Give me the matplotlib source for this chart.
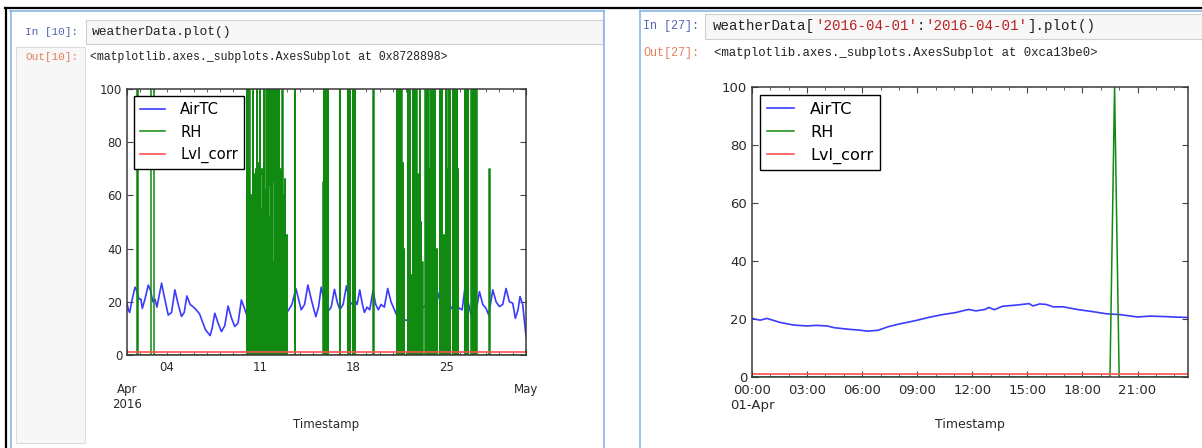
import matplotlib
matplotlib.use('Agg')
import matplotlib.pyplot as plt
from matplotlib.patches import Rectangle

W, H = 1202, 448

# ---- month plot (weatherData.plot()) : x in days since 2016-04-01
airtc_days = [0.0, 0.1, 0.2, 0.35, 0.6, 0.75, 0.9, 1.05, 1.15, 1.35, 1.6, 1.75, 1.95, 2.1,
              2.25, 2.6, 2.8, 3.1, 3.35, 3.6, 3.85, 4.1, 4.3, 4.5, 4.75, 5.0, 5.2, 5.45, 5.6,
              5.9, 6.25, 6.4, 6.6, 6.85, 7.1, 7.35, 7.6, 7.85, 8.1, 8.35, 8.6, 8.8, 9.0, 9.25,
              9.5, 9.75, 10.0, 10.3, 10.6, 10.85, 11.1, 11.5, 11.8, 12.1, 12.4, 12.7, 12.9,
              13.1, 13.35, 13.6, 13.9, 14.2, 14.4, 14.6, 14.85, 15.1, 15.35, 15.6, 15.8, 16.0,
              16.25, 16.5, 16.75, 17.0, 17.1, 17.3, 17.5, 17.7, 17.85, 18.05, 18.25, 18.5,
              18.7, 18.9, 19.1, 19.35, 19.6, 19.85, 20.1, 20.3, 20.5, 20.75, 21.0, 21.25,
              21.4, 21.65, 21.85, 22.05, 22.3, 22.5, 22.75, 23.0, 23.25, 23.5, 23.75, 24.05,
              24.3, 24.5, 24.75, 25.0, 25.2, 25.4, 25.65, 25.95, 26.2, 26.5, 26.75, 27.0,
              27.2, 27.5, 27.75, 28.0, 28.25, 28.5, 28.75, 29.0, 29.2, 29.4, 29.55, 29.75, 30.0]
airtc_vals = [19.5, 17, 16, 20, 25.5, 24, 21, 21, 17.5, 21, 26.3, 24.5, 20, 21,
              18, 27, 22, 15, 16, 24.5, 19, 14.5, 16, 22.2, 19, 18, 17, 15.5, 13.5,
              9.5, 7.3, 10, 15.7, 12, 8.8, 11, 18.4, 14, 10.7, 12, 20.7, 18, 15, 18,
              20.7, 18, 17, 20, 23.8, 17.6, 18, 17, 20, 16.5, 19, 25, 21,
              17, 19, 26.3, 20, 14.4, 18, 25.5, 20, 16.3, 18, 24.7, 20, 17,
              19, 26, 20, 18.8, 21, 19, 24.5, 19, 16, 18, 17, 24.2,
              19, 17, 19, 18, 25, 20, 17, 14.7, 12.5, 13.5, 13, 13.8,
              16, 22.6, 19, 17, 18, 18.8, 17.5, 17, 19, 23.8, 19, 16.3,
              18.5, 17, 19, 17.5, 17, 25, 20, 13.2, 15, 23.8, 19, 17.5,
              15, 24.5, 20, 18.2, 19, 25, 20, 19.5, 13.8, 17, 22, 19, 7]

# RH pulses: start day, end day, height (zero in between)
rh_on = [0.77, 1.80,
         9.00, 9.08, 9.14, 9.20, 9.28, 9.33, 9.40, 9.46, 9.52, 9.58, 9.64, 9.70, 9.76, 9.82,
         9.88, 9.94, 10.00, 10.06, 10.12, 10.18, 10.24, 10.30, 10.36, 10.42, 10.48, 10.54,
         10.60, 10.66, 10.72, 10.78, 10.84, 10.90, 10.96, 11.02, 11.08, 11.14, 11.20, 11.26,
         11.32, 11.38, 11.44, 11.50, 11.56, 11.62, 11.68, 11.76, 11.86, 12.00, 12.62,
         14.76, 14.80, 14.88, 14.95, 15.00, 15.10, 16.00, 16.62, 16.70, 16.78, 17.00, 17.12,
         18.52,
         20.28, 20.34, 20.40, 20.48, 20.55, 20.62, 20.72, 20.80, 21.12, 21.20, 21.28, 21.36,
         21.50, 21.56, 21.64, 21.76, 21.86, 22.00, 22.10, 22.20, 22.38, 22.44, 22.52, 22.60,
         22.68, 22.80, 22.90, 23.02, 23.10, 23.16, 23.30, 23.50, 23.58, 23.66, 23.80, 24.00,
         24.08, 24.16, 24.26, 24.50, 24.58, 24.66, 24.74, 24.82, 24.90, 25.40, 25.48, 25.56,
         25.64, 25.90, 26.00, 26.12, 26.26, 27.24]
rh_off = [0.79, 2.02,
          9.03, 9.10, 9.16, 9.24, 9.30, 9.36, 9.42, 9.48, 9.55, 9.60, 9.66, 9.72, 9.78, 9.85,
          9.90, 9.96, 10.02, 10.08, 10.14, 10.20, 10.26, 10.32, 10.38, 10.44, 10.50, 10.56,
          10.62, 10.68, 10.74, 10.80, 10.86, 10.92, 10.98, 11.04, 11.10, 11.16, 11.22, 11.28,
          11.34, 11.40, 11.46, 11.52, 11.58, 11.64, 11.70, 11.78, 11.88, 12.02, 12.64,
          14.78, 14.83, 14.90, 14.97, 15.03, 15.12, 16.02, 16.64, 16.72, 16.80, 17.02, 17.14,
          18.54,
          20.30, 20.36, 20.42, 20.50, 20.57, 20.64, 20.74, 20.82, 21.14, 21.22, 21.30, 21.38,
          21.52, 21.58, 21.66, 21.78, 21.88, 22.02, 22.12, 22.22, 22.40, 22.46, 22.54, 22.62,
          22.70, 22.82, 22.92, 23.04, 23.12, 23.18, 23.32, 23.52, 23.60, 23.68, 23.82, 24.02,
          24.10, 24.18, 24.28, 24.52, 24.60, 24.68, 24.76, 24.84, 24.92, 25.42, 25.50, 25.58,
          25.66, 25.92, 26.02, 26.14, 26.28, 27.26]
rh_peak = [100, 100,
           100, 100, 74, 100, 48, 60, 42, 100, 66, 68, 63, 70, 100, 72,
           58, 69, 100, 55, 70, 68, 40, 100, 62, 69, 100, 66,
           100, 52, 100, 64, 70, 100, 35, 100, 65, 100, 60, 100,
           67, 55, 100, 64, 70, 58, 100, 60, 66, 45, 100,
           65, 100, 100, 60, 100, 100, 100, 100, 100, 100, 100, 100,
           100,
           100, 100, 100, 100, 100, 100, 72, 40, 100, 70, 100, 30,
           100, 60, 100, 100, 68, 100, 50, 35, 65, 100, 100, 100,
           70, 100, 100, 100, 70, 100, 40, 100, 100, 100, 45, 100,
           70, 100, 100, 100, 100, 100, 70, 100, 70, 100, 100, 100,
           100, 100, 100, 100, 100, 70]
lvl_days = [0, 30]
lvl_vals = [1.0, 1.0]

month_major = [0, 30]
month_major_labels = ['Apr\n2016', 'May']
month_minor = list(range(31))
month_minor_labels = {3: '04', 10: '11', 17: '18', 24: '25'}

# ---- one day plot (2016-04-01) : x in hours
day_hours = [0, 0.44, 0.81, 1.54, 2.28, 3.0, 3.5, 4.1, 4.48, 5.2, 5.94, 6.3, 6.86, 7.4,
             7.96, 8.88, 9.6, 10.35, 11.08, 11.8, 12.2, 12.7, 12.9, 13.2, 13.65, 14.4,
             15.1, 15.3, 15.67, 16.04, 16.4, 16.95, 17.7, 18.6, 19.3, 20.07, 21.0, 21.7,
             22.6, 23.75]
day_airtc = [20.2, 19.6, 20.2, 18.8, 17.9, 17.6, 17.8, 17.6, 17.0, 16.5, 16.1, 15.8, 16.1,
             17.3, 18.2, 19.4, 20.5, 21.5, 22.2, 23.3, 22.8, 23.3, 24.0, 23.2, 24.4, 24.8,
             25.3, 24.5, 25.2, 25.0, 24.2, 24.2, 23.3, 22.5, 21.8, 21.5, 20.7, 21.0,
             20.8, 20.5]
day_rh_hours = [0, 19.5, 19.75, 20.0, 23.75]
day_rh_vals = [0, 0, 100, 0, 0]
day_lvl_hours = [0, 23.75]
day_lvl_vals = [1.0, 1.0]

day_major = list(range(0, 22, 3))
day_major_labels = ['00:00\n01-Apr', '03:00', '06:00', '09:00', '12:00', '15:00', '18:00', '21:00']
day_minor = list(range(24))

BLUE, GREEN, RED = '#3b3bff', '#108a10', '#ff5050'

fig = plt.figure(figsize=(W / 100, H / 100), dpi=100, facecolor='white')

# notebook chrome drawn in pixel coordinates
bg = fig.add_axes([0, 0, 1, 1], zorder=-1)
bg.set_xlim(0, W)
bg.set_ylim(H, 0)
bg.set_axis_off()

cell_blue = '#7fb0e3'
bg.plot([5, W], [8.5, 8.5], color='black', lw=1.6)
bg.plot([6, 6], [8, H], color='black', lw=1.6)
bg.plot([10.5, 10.5], [11, H], color=cell_blue, lw=1.1)
bg.plot([10, 604], [11.5, 11.5], color=cell_blue, lw=1.1)
bg.plot([603.5, 603.5], [11, H], color=cell_blue, lw=1.1)
bg.plot([640, 640], [11, H], color=cell_blue, lw=1.1)
bg.plot([640, W], [11.5, 11.5], color=cell_blue, lw=1.1)

bg.add_patch(Rectangle((86, 20), 517, 24, fc='#f7f7f7', ec='#d0d0d0', lw=0.8))
bg.add_patch(Rectangle((16, 47), 69, 396, fc='#f7f7f7', ec='#dcdcdc', lw=0.8))
bg.add_patch(Rectangle((705, 14), 497, 25, fc='#f7f7f7', ec='#d0d0d0', lw=0.8))

mono = 'Liberation Mono'
in_col, out_col = '#5565b0', '#e0805f'
bg.text(25, 32, 'In [10]:', color=in_col, family=mono, fontsize=8, va='center')
bg.text(92, 32, 'weatherData.plot()', color='#222222', family=mono, fontsize=9.4, va='center')
bg.text(26, 57, 'Out[10]:', color=out_col, family=mono, fontsize=8, va='center')
bg.text(90, 57, '<matplotlib.axes._subplots.AxesSubplot at 0x8728898>', color='#222222',
        family=mono, fontsize=8.3, va='center')

bg.text(643, 26, 'In [27]:', color=in_col, family=mono, fontsize=8.5, va='center')
code_fs = 10.2
adv = 0.6 * code_fs * 100 / 72
parts = [("weatherData[", '#222222'), ("'2016-04-01'", '#ba2121'), (":", '#222222'),
         ("'2016-04-01'", '#ba2121'), ("].plot()", '#222222')]
cx = 713
for s, c in parts:
    bg.text(cx, 26, s, color=c, family=mono, fontsize=code_fs, va='center')
    cx += adv * len(s)
bg.text(643, 53, 'Out[27]:', color=out_col, family=mono, fontsize=8.5, va='center')
bg.text(714, 53, '<matplotlib.axes._subplots.AxesSubplot at 0xca13be0>', color='#222222',
        family=mono, fontsize=8.9, va='center')


def style(ax, fs):
    ax.set_ylim(0, 100)
    ax.set_yticks(range(0, 101, 20))
    ax.tick_params(which='both', direction='in', top=True, right=True, labelsize=fs,
                   labelcolor='#2a2a2a', color='#444444')
    ax.tick_params(which='major', length=4, width=0.8)
    ax.tick_params(which='minor', length=2, width=0.6)
    for sp in ax.spines.values():
        sp.set_color('#3a3a3a')
        sp.set_linewidth(1.1)


# left: whole month
ax1 = fig.add_axes([127 / W, (H - 355) / H, 399 / W, 266 / H])
rh_x, rh_y = [0], [0]
for on, off, v in zip(rh_on, rh_off, rh_peak):
    rh_x += [on, on, off, off]
    rh_y += [0, v, v, 0]
rh_x.append(30)
rh_y.append(0)
ax1.plot(airtc_days, airtc_vals, color=BLUE, lw=1.2, label='AirTC')
ax1.plot(rh_x, rh_y, color=GREEN, lw=1.1, label='RH')
ax1.plot(lvl_days, lvl_vals, color=RED, lw=1.2, label='Lvl_corr')
ax1.set_xlim(0, 30)
style(ax1, 8.5)
ax1.set_xticks(month_major)
ax1.set_xticklabels(month_major_labels)
ax1.set_xticks(month_minor, minor=True)
ax1.set_xticklabels([month_minor_labels.get(d, '') for d in month_minor], minor=True)
ax1.tick_params(axis='x', which='major', pad=20)
ax1.tick_params(axis='x', which='minor', pad=4, labelsize=8.5)
ax1.set_xlabel('Timestamp', fontsize=8.5, color='#2a2a2a')
ax1.xaxis.set_label_coords(0.5, -0.235)
leg1 = ax1.legend(loc='upper left', fontsize=10.6, fancybox=False, framealpha=1,
                  edgecolor='black', handlelength=1.7, handletextpad=1.0,
                  borderaxespad=0.5, labelspacing=0.5)
leg1.get_frame().set_linewidth(1.0)

# right: one day
ax2 = fig.add_axes([752 / W, (H - 377) / H, 436 / W, 290 / H])
ax2.plot(day_hours, day_airtc, color=BLUE, lw=1.2, label='AirTC')
ax2.plot(day_rh_hours, day_rh_vals, color=GREEN, lw=1.1, label='RH')
ax2.plot(day_lvl_hours, day_lvl_vals, color=RED, lw=1.2, label='Lvl_corr')
ax2.set_xlim(0, 23.75)
style(ax2, 9.5)
ax2.set_xticks(day_major)
ax2.set_xticklabels(day_major_labels)
ax2.set_xticks(day_minor, minor=True)
ax2.tick_params(axis='x', which='major', pad=5)
ax2.set_xlabel('Timestamp', fontsize=9, color='#2a2a2a')
ax2.xaxis.set_label_coords(0.5, -0.14)
leg2 = ax2.legend(loc='upper left', fontsize=11.6, fancybox=False, framealpha=1,
                  edgecolor='black', handlelength=1.7, handletextpad=1.0,
                  borderaxespad=0.5, labelspacing=0.5)
leg2.get_frame().set_linewidth(1.0)

fig.savefig('out.png', dpi=100, facecolor='white')
